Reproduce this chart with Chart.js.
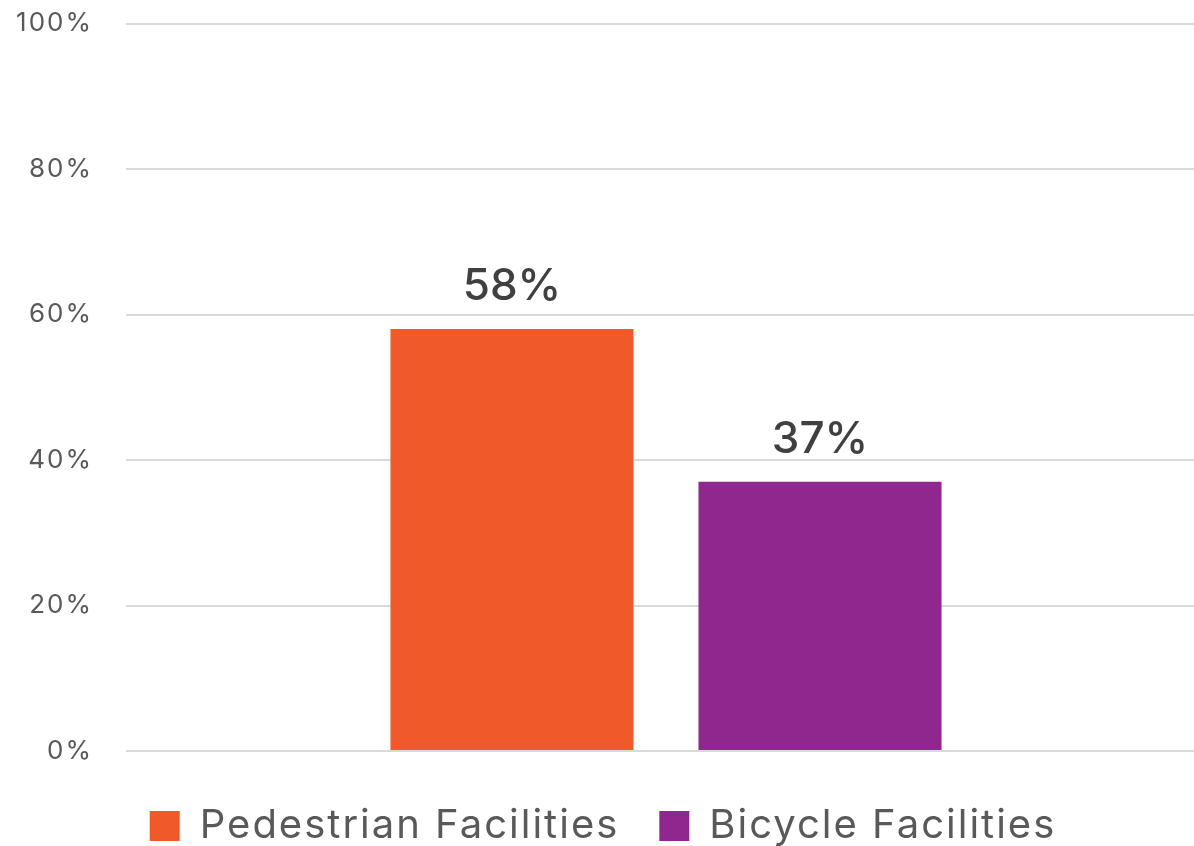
<!DOCTYPE html>
<html>
<head>
<meta charset="utf-8">
<script src="https://cdn.jsdelivr.net/npm/chart.js@4/dist/chart.umd.min.js"></script>
<style>
  html, body { margin: 0; padding: 0; background: #fff; overflow: hidden; }
  #wrap { width: 1206px; height: 871px; margin-top: -25px; }
</style>
</head>
<body>
<div id="wrap"><canvas id="chart"></canvas></div>
<script>
// data
const categories = [''];
const seriesNames = ['Pedestrian Facilities', 'Bicycle Facilities'];
const pedestrian = [58];
const bicycle = [37];
const tickValues = [0, 20, 40, 60, 80, 100];

const colors = ['#f05a28', '#90278e'];
const fontFamily = "Inter, 'Noto Sans', sans-serif";

// the reference font is wider, so space the letters a bit
const spacing = {
  id: 'spacing',
  beforeUpdate(chart) { chart.ctx.letterSpacing = '2px'; },
  beforeDraw(chart) { chart.ctx.letterSpacing = '2px'; }
};

// draws the % value above each bar
const valueLabels = {
  id: 'valueLabels',
  afterDatasetsDraw(chart) {
    const ctx = chart.ctx;
    ctx.save();
    ctx.letterSpacing = '0px';
    ctx.font = '500 44px ' + fontFamily;
    ctx.fillStyle = '#404040';
    ctx.textAlign = 'center';
    ctx.textBaseline = 'bottom';
    chart.data.datasets.forEach((ds, i) => {
      chart.getDatasetMeta(i).data.forEach((bar, j) => {
        ctx.fillText(ds.data[j] + '%', bar.x, bar.y - 20);
      });
    });
    ctx.restore();
  }
};

new Chart(document.getElementById('chart'), {
  type: 'bar',
  data: {
    labels: categories,
    datasets: [
      { label: seriesNames[0], data: pedestrian, backgroundColor: colors[0] },
      { label: seriesNames[1], data: bicycle, backgroundColor: colors[1] }
    ]
  },
  options: {
    responsive: true,
    maintainAspectRatio: false,
    animation: false,
    layout: { padding: { top: 0, right: 0, left: 0, bottom: -10 } },
    datasets: { bar: { categoryPercentage: 0.5704, barPercentage: 0.789 } },
    plugins: {
      tooltip: { enabled: false },
      legend: {
        position: 'bottom',
        labels: {
          color: '#595959',
          font: { family: fontFamily, size: 40 },
          boxWidth: 30,
          boxHeight: 30,
          padding: 40
        }
      }
    },
    scales: {
      x: {
        grid: { display: false },
        border: { display: false },
        ticks: { display: false },
        afterFit(scale) { scale.height = 15; }
      },
      y: {
        min: 0,
        max: 100,
        afterBuildTicks(scale) {
          scale.ticks = tickValues.map(v => ({ value: v }));
        },
        afterFit(scale) { scale.width = 126; },
        grid: { color: '#d9d9d9', lineWidth: 2, drawTicks: false },
        border: { display: false },
        ticks: {
          color: '#595959',
          padding: 33,
          font: { family: fontFamily, size: 26 },
          callback: v => v + '%'
        }
      }
    }
  },
  plugins: [spacing, valueLabels]
});
</script>
</body>
</html>
